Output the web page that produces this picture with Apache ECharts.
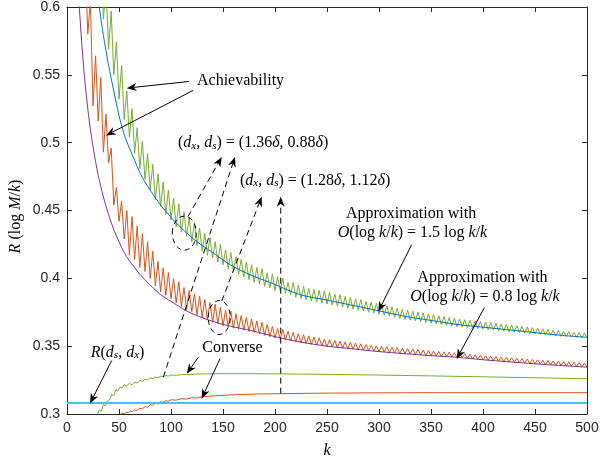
<!DOCTYPE html>
<html><head><meta charset="utf-8">
<script src="https://cdn.jsdelivr.net/npm/echarts@6/dist/echarts.min.js"></script>
<style>html,body{margin:0;padding:0;background:#fff}#c{width:602px;height:463px}</style>
</head><body><div id="c"></div>
<script>
// ---------- data ----------
const kStep = 2.5;
const achGreenStart = 32.5;
const achGreen = [
0.640,0.591,0.617,0.569,0.597,0.550,0.574,0.532,0.557,0.517,
0.538,0.504,0.525,0.492,0.511,0.481,0.501,0.473,0.492,0.465,
0.484,0.458,0.477,0.453,0.471,0.447,0.465,0.443,0.459,0.438,
0.455,0.434,0.449,0.431,0.445,0.427,0.441,0.424,0.437,0.420,
0.433,0.417,0.430,0.415,0.427,0.412,0.425,0.410,0.421,0.407,
0.419,0.405,0.416,0.403,0.414,0.401,0.412,0.399,0.410,0.397,
0.408,0.396,0.407,0.394,0.404,0.393,0.403,0.391,0.401,0.391,
0.400,0.389,0.397,0.388,0.397,0.386,0.395,0.385,0.394,0.384,
0.3926,0.3832,0.3918,0.3824,0.3911,0.3817,0.3909,0.3810,0.3896,0.3802,
0.3883,0.3794,0.3880,0.3788,0.3867,0.3780,0.3859,0.3773,0.3848,0.3765,
0.3843,0.3758,0.3830,0.3750,0.3824,0.3743,0.3814,0.3735,0.3806,0.3727,
0.3796,0.3720,0.3790,0.3712,0.3780,0.3705,0.3771,0.3697,0.3765,0.3692,
0.3757,0.3686,0.3751,0.3681,0.3744,0.3675,0.3738,0.3670,0.3732,0.3664,
0.3724,0.3659,0.3719,0.3653,0.3711,0.3648,0.3706,0.3642,0.3700,0.3639,
0.3695,0.3635,0.3691,0.3632,0.3686,0.3628,0.3682,0.3625,0.3678,0.3621,
0.3673,0.3618,0.3669,0.3614,0.3664,0.3611,0.3660,0.3607,0.3655,0.3604,
0.3651,0.3600,0.3646,0.3597,0.3642,0.3593,0.3637,0.3590,0.3633,0.3586,
0.3628,0.3583,0.3624,0.3579,0.3619,0.3576,0.3615,0.3572,0.3610,0.3570,
0.3607,0.3567,0.3603,0.3565,0.3600,0.3562,0.3596,0.3560];

const achOrangeStart = 17.5;
const achOrange = [
0.633,0.580,0.605,0.527,0.564,0.516,0.548,0.493,0.521,0.485,
0.496,0.454,0.467,0.442,0.457,0.429,0.450,0.417,0.4455,0.414,
0.4385,0.408,0.433,0.405,0.427,0.400,0.420,0.3945,0.4125,0.390,
0.4077,0.3875,0.4042,0.385,0.3998,0.3817,0.3975,0.3793,0.3932,0.377,
0.3912,0.3753,0.3885,0.3732,0.3868,0.371,0.3844,0.3693,0.3821,0.3675,
0.3809,0.3663,0.3786,0.365,0.3766,0.3642,0.3758,0.3633,0.3739,0.3625,
0.3726,0.3617,0.3713,0.3608,0.3699,0.360,0.3685,0.359,0.3675,0.358,
0.366,0.357,0.3645,0.356,0.3631,0.3552,0.3623,0.3546,0.361,0.3538,
0.3602,0.3531,0.3592,0.3524,0.3583,0.3518,0.3576,0.3513,0.3568,0.3507,
0.3561,0.3502,0.3553,0.3496,0.3548,0.3493,0.3542,0.3489,0.3537,0.3485,
0.3532,0.3482,0.3527,0.3478,0.3522,0.3474,0.3517,0.3471,0.3512,0.3467,
0.3507,0.3464,0.3502,0.346,0.3499,0.3457,0.3496,0.3454,0.3492,0.3451,
0.3489,0.3448,0.3485,0.3445,0.3482,0.3442,0.3478,0.3439,0.3475,0.3436,
0.3471,0.3433,0.3468,0.343,0.3464,0.3428,0.3461,0.3425,0.3458,0.3423,
0.3456,0.342,0.3452,0.3418,0.3449,0.3414,0.3445,0.3411,0.3441,0.3407,
0.3436,0.3404,0.3433,0.340,0.3429,0.3397,0.3426,0.3394,0.3423,0.3391,
0.342,0.3388,0.3417,0.3385,0.3414,0.3382,0.3411,0.3379,0.3408,0.3376,
0.3405,0.3373,0.3402,0.337,0.3399,0.3368,0.3396,0.3365,0.3394,0.3363,
0.3391,0.336,0.3389,0.3358,0.3386,0.3355,0.3384,0.3353,0.3381,0.335,
0.3379,0.3348,0.3376,0.3345];

const approxBlueK = [28,31,35,40,45,50,55,60,65,70,75,80,90,100,110,125,140,157,175,195,224,250,275,300,325,350,375,400,425,450,475,500];
const approxBlueV = [0.617,0.600,0.579,0.557,0.538,0.520,0.506,0.496,0.487,0.478,0.471,0.465,0.454,0.445,0.437,0.427,0.419,0.410,0.403,0.397,0.388,0.384,0.380,0.376,0.372,0.369,0.366,0.364,0.362,0.360,0.358,0.3565];

const approxPurpleK = [10,12,15,17.5,20,22.5,25,27.5,30,35,40,45,50,55,60,65,70,80,90,100,115,130,150,180,200,225,250,275,300,350,375,400,450,500];
const approxPurpleV = [0.625,0.598,0.565,0.543,0.525,0.510,0.497,0.486,0.476,0.460,0.447,0.436,0.427,0.419,0.413,0.408,0.403,0.395,0.388,0.383,0.376,0.371,0.366,0.361,0.357,0.353,0.350,0.348,0.346,0.343,0.3418,0.340,0.337,0.3345];

const convGreenK = [29,31,33,35,37,39,41,43,45,47,49,51,53,55,57,60,62.5,65,67.5,70,72.5,75,77.5,80,82.5,85,87.5,90,92.5,95,97.5,100,105,110,115,125,135,150,175,200,250,300,350,400,450,500];
const convGreenV = [0.299,0.303,0.302,0.307,0.306,0.310,0.3105,0.3145,0.3135,0.318,0.317,0.320,0.3192,0.3215,0.3205,0.3225,0.3215,0.3235,0.3228,0.3248,0.324,0.3258,0.3252,0.3266,0.326,0.3272,0.3267,0.3278,0.3274,0.3283,0.328,0.3287,0.3285,0.329,0.3291,0.3294,0.3296,0.3297,0.3297,0.3296,0.3292,0.3287,0.3281,0.3274,0.3267,0.326];

const convOrangeK = [51,53,55,57,59,61,63,65,67.5,70,72.5,75,77.5,80,82.5,85,87.5,90,92.5,95,97.5,100,105,110,115,120,125,130,140,150,165,180,205,250,300,350,400,450,500];
const convOrangeV = [0.2995,0.3005,0.3002,0.3013,0.301,0.3022,0.3018,0.303,0.3026,0.3042,0.3038,0.3055,0.305,0.3068,0.3064,0.308,0.3075,0.309,0.3086,0.3098,0.3094,0.3105,0.3102,0.3113,0.311,0.312,0.3118,0.3127,0.3133,0.3138,0.3143,0.3147,0.315,0.3154,0.3156,0.3157,0.3157,0.3157,0.3157];

const boundK = [0,500];
const boundV = [0.3081,0.3081];

const xTickInterval = 50, yTickInterval = 0.05;

// ---------- chart ----------
const chart = echarts.init(document.getElementById('c'), null, {renderer:'canvas'});
const seq = (start, arr) => arr.map((v,i)=>[start + i*kStep, v]);
const zip = (ks, vs) => ks.map((k,i)=>[k, vs[i]]);
const AX = '#262626';
const SANS = 'Liberation Sans, Arial, sans-serif';
const SERIF = 'Liberation Serif, Times New Roman, serif';

function lineSeries(data, color, width, z){
  return {type:'line', data, symbol:'none', showSymbol:false, smooth:false, clip:true,
    lineStyle:{color, width}, z: z||2, silent:true, animation:false};
}
const xBase = {type:'value', min:0, max:500, interval:xTickInterval,
  axisLine:{show:true, onZero:false, lineStyle:{color:AX, width:1}},
  axisTick:{show:true, inside:true, length:5, lineStyle:{color:AX}},
  splitLine:{show:false}};
const yBase = {type:'value', min:0.3, max:0.6, interval:yTickInterval,
  axisLine:{show:true, onZero:false, lineStyle:{color:AX, width:1}},
  axisTick:{show:true, inside:true, length:5, lineStyle:{color:AX}},
  splitLine:{show:false}};

const option = {
  animation:false,
  backgroundColor:'#fff',
  grid:{left:67, right:15, top:4, bottom:49, containLabel:false},
  xAxis:[
    Object.assign({}, xBase, {position:'bottom', axisLabel:{color:AX, fontFamily:SANS, fontSize:14, margin:7}}),
    Object.assign({}, xBase, {position:'top', axisLabel:{show:false}})
  ],
  yAxis:[
    Object.assign({}, yBase, {position:'left', axisLabel:{color:AX, fontFamily:SANS, fontSize:14, margin:7,
      formatter:v=>String(+v.toFixed(2))}}),
    Object.assign({}, yBase, {position:'right', axisLabel:{show:false}})
  ],
  series:[
    lineSeries(seq(achGreenStart, achGreen), '#77AC30', 1, 2),
    lineSeries(seq(achOrangeStart, achOrange), '#D95319', 1, 2),
    lineSeries(zip(approxBlueK, approxBlueV), '#0072BD', 1, 3),
    lineSeries(zip(approxPurpleK, approxPurpleV), '#7E2F8E', 1, 3),
    lineSeries(zip(convGreenK, convGreenV), '#77AC30', 1, 2),
    lineSeries(zip(convOrangeK, convOrangeV), '#D95319', 1, 2),
    lineSeries(zip(boundK, boundV), '#4DBEEE', 2.2, 2)
  ]
};
option.series[2].smooth = 0.3;
option.series[3].smooth = 0.3;
chart.setOption(option);

// ---------- annotations (anchored in data coordinates) ----------
const P = (k,v) => chart.convertToPixel({xAxisIndex:0, yAxisIndex:0}, [k,v]);
const els = [];
function arrow(a, b, dashed){
  const p1 = P(a[0],a[1]), p2 = P(b[0],b[1]);
  const dx = p2[0]-p1[0], dy = p2[1]-p1[1], len = Math.hypot(dx,dy);
  const ux = dx/len, uy = dy/len, nx = -uy, ny = ux;
  const L = 10, W = 8;
  const back = [p2[0]-ux*L, p2[1]-uy*L];
  const notch = [p2[0]-ux*L*0.7, p2[1]-uy*L*0.7];
  els.push({type:'line', silent:true, z:100,
    shape:{x1:p1[0], y1:p1[1], x2:notch[0], y2:notch[1]},
    style:{stroke:'#000', lineWidth:1, lineDash: dashed ? [6,4] : null}});
  els.push({type:'polygon', silent:true, z:101,
    shape:{points:[[p2[0],p2[1]],[back[0]+nx*W/2, back[1]+ny*W/2], notch, [back[0]-nx*W/2, back[1]-ny*W/2]]},
    style:{fill:'#000'}});
}
function ellipse(c, rx, ry){
  const p = P(c[0], c[1]);
  els.push({type:'ellipse', silent:true, z:100, shape:{cx:p[0], cy:p[1], rx, ry},
    style:{fill:null, stroke:'#000', lineWidth:1, lineDash:[5,4]}});
}
const rich = {
  r:{fontFamily:SERIF, fontSize:16, lineHeight:18, verticalAlign:'bottom', fill:'#000'},
  i:{fontFamily:SERIF, fontSize:16, fontStyle:'italic', lineHeight:18, verticalAlign:'bottom', fill:'#000'},
  s:{fontFamily:SERIF, fontSize:11, fontStyle:'italic', lineHeight:11, verticalAlign:'bottom', fill:'#000'}
};
function text(c, str, align, rot){
  const p = P(c[0], c[1]);
  els.push({type:'text', silent:true, z:102, x:p[0], y:p[1], rotation: rot||0,
    style:{text:str, rich, align:align||'left', verticalAlign:'middle', fontFamily:SERIF, fontSize:16, fill:'#000'}});
}

text([125, 0.5466], '{r|Achievability}', 'left');
arrow([117.3, 0.5451], [57.4, 0.5402]);
arrow([121.2, 0.5385], [37.5, 0.5053]);

text([106.7, 0.5004], '{r|(}{i|d}{s|x}{r|, }{i|d}{s|s}{r|) = (1.36}{i|δ}{r|, 0.88}{i|δ}{r|)}', 'left');
text([166.3, 0.4726], '{r|(}{i|d}{s|x}{r|, }{i|d}{s|s}{r|) = (1.28}{i|δ}{r|, 1.12}{i|δ}{r|)}', 'left');
arrow([116.3, 0.4455], [148.8, 0.4895], true);
arrow([92.6, 0.3272], [161.5, 0.4895], true);
arrow([148.8, 0.3833], [187.2, 0.4602], true);
arrow([205.5, 0.3150], [205.5, 0.4602], true);
ellipse([112.8, 0.4333], 12, 17);
ellipse([146.4, 0.3711], 11, 17);

text([330.8, 0.4485], '{r|Approximation with}', 'center');
text([332.2, 0.4340], '{i|O}{r|(log }{i|k}{r|/}{i|k}{r|) = 1.5 log }{i|k}{r|/}{i|k}', 'center');
arrow([331.4, 0.4248], [299.3, 0.3755]);

text([399.5, 0.4012], '{r|Approximation with}', 'center');
text([401.9, 0.3868], '{i|O}{r|(log }{i|k}{r|/}{i|k}{r|) = 0.8 log }{i|k}{r|/}{i|k}', 'center');
arrow([401.3, 0.3784], [374.7, 0.3406]);

text([159.1, 0.3498], '{r|Converse}', 'center');
arrow([126.3, 0.3418], [115.1, 0.3297]);
arrow([147.1, 0.3408], [129.5, 0.3113]);

text([48.6, 0.3460], '{i|R}{r|(}{i|d}{s|s}{r|, }{i|d}{s|x}{r|)}', 'center');
arrow([43, 0.3394], [22.1, 0.3077]);

// axis names
const pc = P(250, 0.45);
els.push({type:'text', silent:true, z:102, x:pc[0], y:450,
  style:{text:'{i|k}', rich, align:'center', verticalAlign:'middle'}});
els.push({type:'text', silent:true, z:102, x:15, y:pc[1]+6, rotation:Math.PI/2,
  style:{text:'{i|R}{r| (log }{i|M}{r|/}{i|k}{r|)}', rich, align:'center', verticalAlign:'middle'}});

chart.setOption({graphic:{elements:els}});
</script>
</body></html>
